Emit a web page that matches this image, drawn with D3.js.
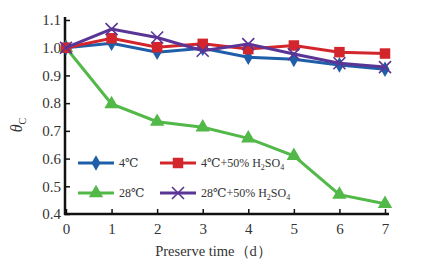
<!DOCTYPE html>
<html>
<head>
<meta charset="utf-8">
<script src="https://cdn.jsdelivr.net/npm/d3@7"></script>
<style>
  body { margin: 0; background: #fff; }
</style>
</head>
<body>
<div id="chart"></div>
<script>
var days = [0, 1, 2, 3, 4, 5, 6, 7]
var yTicks = [0.4, 0.5, 0.6, 0.7, 0.8, 0.9, 1.0, 1.1]
var t4 = [1.0, 1.016, 0.984, 0.998, 0.966, 0.958, 0.938, 0.922]
var t4acid = [1.0, 1.034, 1.002, 1.014, 0.995, 1.008, 0.984, 0.979]
var t28 = [1.0, 0.797, 0.733, 0.713, 0.673, 0.61, 0.47, 0.437]
var t28acid = [1.0, 1.067, 1.037, 0.989, 1.013, 0.977, 0.944, 0.93]

var series = [
  { name: "4℃", values: t4, color: "#1f5ea8", symbol: "diamond" },
  { name: "4℃+50% H2SO4", values: t4acid, color: "#d2262c", symbol: "square" },
  { name: "28℃", values: t28, color: "#52b848", symbol: "triangle" },
  { name: "28℃+50% H2SO4", values: t28acid, color: "#5a3596", symbol: "cross" }
]

var serif = "'Liberation Serif', 'DejaVu Serif', serif"
var width = 423, height = 270
var margin = { top: 20, right: 38, bottom: 56, left: 65 }

var svg = d3.select("#chart").append("svg")
  .attr("width", width)
  .attr("height", height)
  .style("font-family", serif)

var x = d3.scaleLinear().domain([0, 7]).range([margin.left + 1, width - margin.right])
var y = d3.scaleLinear().domain([0.4, 1.1]).range([height - margin.bottom, margin.top])

// axes
var xAxis = svg.append("g")
  .attr("transform", "translate(0," + y(0.4) + ")")
  .call(d3.axisBottom(x).tickValues(days).tickFormat(d3.format("d")).tickSize(-5).tickPadding(9).tickSizeOuter(0))
var yAxis = svg.append("g")
  .attr("transform", "translate(" + margin.left + ",0)")
  .call(d3.axisLeft(y).tickValues(yTicks).tickFormat(d3.format(".1f")).tickSize(-5).tickPadding(4).tickSizeOuter(0))

;[xAxis, yAxis].forEach(function(g) {
  g.attr("font-family", serif)
  g.select(".domain").attr("stroke", "#111").attr("stroke-width", 2.5)
  g.selectAll(".tick line").attr("stroke", "#111").attr("stroke-width", 1.5)
  g.selectAll("text").style("font-family", serif).style("font-size", "15px").attr("fill", "#333")
})
xAxis.select(".domain").attr("d", "M" + (margin.left - 1) + ",0H" + (x(7) + 4))
yAxis.select(".domain").attr("d", "M0," + (y(1.1) - 3) + "V" + (y(0.4) + 1))

// y label
var yl = svg.append("text")
  .attr("transform", "translate(22," + ((y(0.4) + y(1.1)) / 2 + 8) + ") rotate(-90)")
  .attr("text-anchor", "middle")
  .style("font-family", serif)
  .style("font-size", "16px")
  .attr("fill", "#333")
yl.append("tspan").style("font-style", "italic").text("θ")
yl.append("tspan").attr("dy", 4).style("font-size", "10px").text("C")

// x label
svg.append("text")
  .attr("x", (x(0) + x(7)) / 2 - 12)
  .attr("y", 256)
  .attr("text-anchor", "middle")
  .style("font-family", serif)
  .style("font-size", "14.5px")
  .attr("fill", "#333")
  .text("Preserve  time（d）")

var line = d3.line()
  .x(function(d, i) { return x(days[i]) })
  .y(function(d) { return y(d) })

function drawSymbol(g, kind, color, cx, cy) {
  if (kind === "cross") {
    g.append("path")
      .attr("d", "M" + (cx - 6) + "," + (cy - 6) + "L" + (cx + 6) + "," + (cy + 6) + "M" + (cx - 6) + "," + (cy + 6) + "L" + (cx + 6) + "," + (cy - 6))
      .attr("stroke", color).attr("stroke-width", 1.6).attr("fill", "none")
    return
  }
  var sym = kind === "diamond" ? d3.symbolDiamond : kind === "square" ? d3.symbolSquare : d3.symbolTriangle
  var size = kind === "diamond" ? 70 : kind === "square" ? 110 : 90
  g.append("path")
    .attr("d", d3.symbol().type(sym).size(size))
    .attr("transform", "translate(" + cx + "," + cy + ")")
    .attr("fill", color)
}

var drawOrder = [2, 0, 1, 3]
drawOrder.forEach(function(k) {
  var s = series[k]
  var g = svg.append("g")
  g.append("path")
    .datum(s.values)
    .attr("d", line)
    .attr("fill", "none")
    .attr("stroke", s.color)
    .attr("stroke-width", 3)
  s.values.forEach(function(v, i) {
    drawSymbol(g, s.symbol, s.color, x(days[i]), y(v))
  })
})

// legend
var legendPos = [
  { lx: 78, ly: 163 },
  { lx: 160, ly: 163 },
  { lx: 78, ly: 193 },
  { lx: 160, ly: 193 }
]
series.forEach(function(s, k) {
  var p = legendPos[k]
  var g = svg.append("g")
  g.append("line")
    .attr("x1", p.lx).attr("x2", p.lx + 36)
    .attr("y1", p.ly).attr("y2", p.ly)
    .attr("stroke", s.color).attr("stroke-width", 3)
  drawSymbol(g, s.symbol, s.color, p.lx + 18, p.ly)
  var t = g.append("text")
    .attr("x", p.lx + 41)
    .attr("y", p.ly + 4)
    .style("font-family", serif)
    .style("font-size", "12px")
    .attr("fill", "#333")
  if (s.name.indexOf("H2SO4") >= 0) {
    t.append("tspan").text(s.name.replace("H2SO4", "H"))
    t.append("tspan").attr("dy", 3).style("font-size", "8px").text("2")
    t.append("tspan").attr("dy", -3).text("SO")
    t.append("tspan").attr("dy", 3).style("font-size", "8px").text("4")
  } else {
    t.text(s.name)
  }
})
</script>
</body>
</html>
